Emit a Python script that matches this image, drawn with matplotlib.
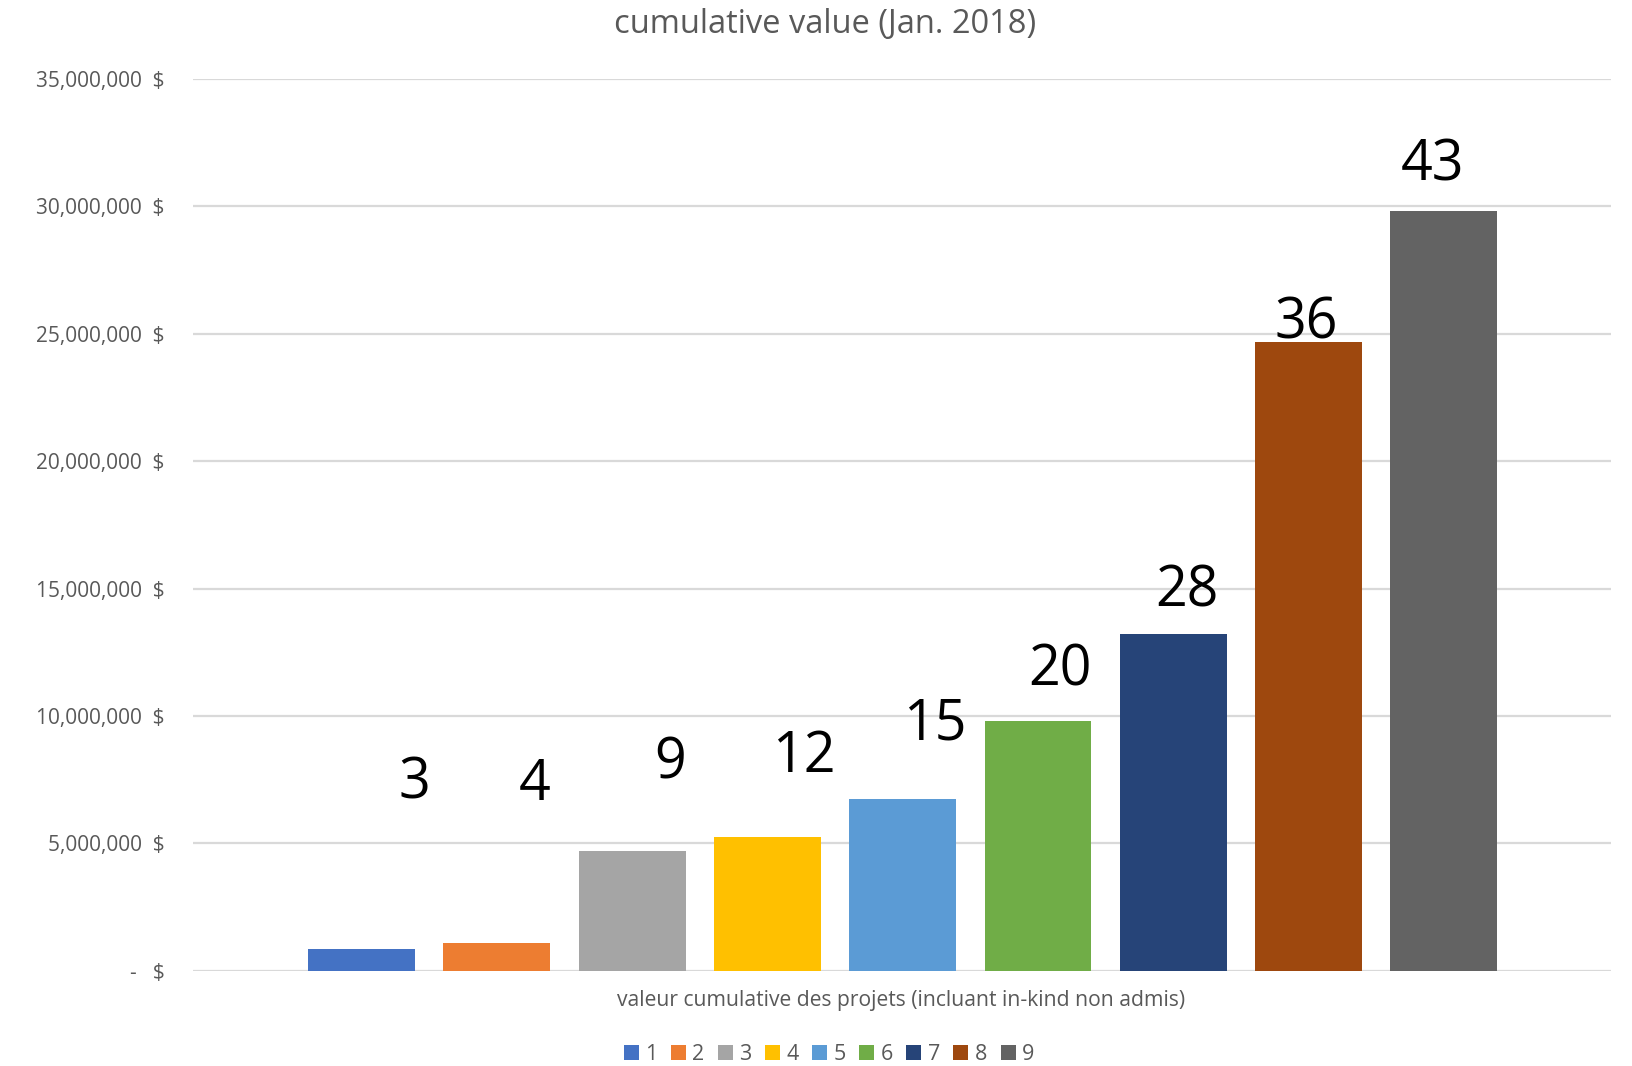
import matplotlib
matplotlib.use('Agg')
import matplotlib.pyplot as plt
from matplotlib.patches import Patch

series = ['1', '2', '3', '4', '5', '6', '7', '8', '9']
values = [850000, 1090000, 4700000, 5250000, 6740000,
          9800000, 13230000, 24690000, 29830000]
labels = ['3', '4', '9', '12', '15', '20', '28', '36', '43']
# where the hand-placed labels sit (baseline, in $) and their shift in bar units
label_y = [6740000, 6700000, 7560000, 7780000, 9060000,
           11190000, 14290000, 24830000, 31030000]
label_dx = [0.39, 0.28, 0.28, 0.27, 0.24, 0.16, 0.10, -0.02, -0.08]
colors = ['#4472C4', '#ED7D31', '#A5A5A5', '#FFC000', '#5B9BD5',
          '#70AD47', '#264478', '#9E480E', '#636363']

plt.rcParams['font.family'] = ['Open Sans', 'DejaVu Sans']
grey = '#595959'

fig = plt.figure(figsize=(16.32, 10.66), dpi=100)
ax = fig.add_axes([0.118, 0.0894, 0.869, 0.8365])

x = list(range(len(series)))
ax.bar(x, values, width=0.79, color=colors, zorder=3)
for i, lab in enumerate(labels):
    ax.text(x[i] + label_dx[i], label_y[i], lab, ha='center', va='baseline',
            fontsize=40, color='black', zorder=4)

ax.set_xlim(-1.25, 9.235)
ax.set_ylim(0, 35000000)
ticks = list(range(0, 35000001, 5000000))
ax.set_yticks(ticks)
ax.set_yticklabels(['-   $' if t == 0 else f'{t:,}  $' for t in ticks],
                   fontsize=15, color=grey)
ax.set_xticks([])
ax.tick_params(axis='y', length=0, pad=20)
ax.grid(axis='y', color='#D9D9D9', linewidth=1.6, zorder=0)
for s in ax.spines.values():
    s.set_visible(False)

fig.text(0.5055, 0.977, 'cumulative value (Jan. 2018)', ha='center', va='center',
         fontsize=23.5, color=grey)
fig.text(0.552, 0.061, 'valeur cumulative des projets (incluant in-kind non admis)',
         ha='center', va='center', fontsize=15.2, color=grey)

handles = [Patch(facecolor=c) for c in colors]
fig.legend(handles, series, loc='center', bbox_to_anchor=(0.508, 0.011),
           ncol=9, frameon=False, fontsize=15.5, labelcolor=grey,
           handlelength=0.7, handleheight=0.7, handletextpad=0.3,
           columnspacing=0.62)

fig.savefig('out.png', dpi=100)
